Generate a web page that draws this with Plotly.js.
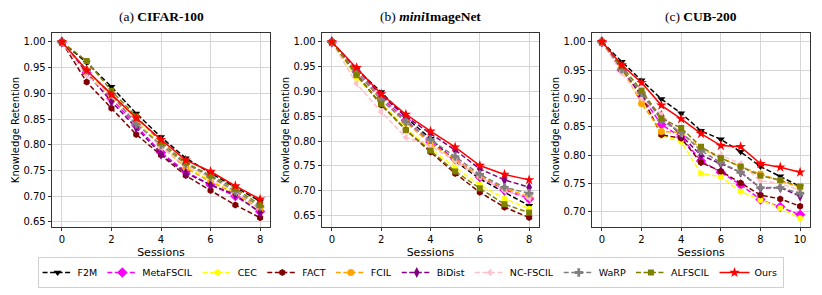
<!DOCTYPE html>
<html><head><meta charset="utf-8">
<script src="https://cdn.plot.ly/plotly-3.0.1.min.js"></script>
<style>html,body{margin:0;padding:0;background:#fff;}#chart{width:822px;height:295px;}</style>
</head><body><div id="chart"></div>
<script>
const methods = ["F2M","MetaFSCIL","CEC","FACT","FCIL","BiDist","NC-FSCIL","WaRP","ALFSCIL","Ours"];
const sessionsA = [0,1,2,3,4,5,6,7,8];
const sessionsB = [0,1,2,3,4,5,6,7,8];
const sessionsC = [0,1,2,3,4,5,6,7,8,9,10];

// (a) CIFAR-100
const cifar_F2M       = [1.0,0.960,0.913,0.861,0.815,0.774,0.745,0.718,0.690];
const cifar_MetaFSCIL = [1.0,0.940,0.890,0.838,0.785,0.748,0.722,0.700,0.670];
const cifar_CEC       = [1.0,0.940,0.893,0.845,0.800,0.760,0.730,0.708,0.678];
const cifar_FACT      = [1.0,0.922,0.871,0.820,0.780,0.740,0.711,0.683,0.658];
const cifar_FCIL      = [1.0,0.945,0.895,0.845,0.798,0.755,0.728,0.705,0.675];
const cifar_BiDist    = [1.0,0.940,0.884,0.833,0.782,0.745,0.722,0.703,0.668];
const cifar_NCFSCIL   = [1.0,0.935,0.895,0.845,0.795,0.760,0.735,0.708,0.680];
const cifar_WaRP      = [1.0,0.945,0.898,0.840,0.800,0.763,0.738,0.710,0.680];
const cifar_ALFSCIL   = [1.0,0.963,0.905,0.855,0.805,0.765,0.740,0.715,0.683];
const cifar_Ours      = [1.0,0.945,0.898,0.852,0.810,0.770,0.748,0.720,0.694];

// (b) miniImageNet
const mini_F2M       = [1.0,0.945,0.899,0.848,0.805,0.760,0.724,0.697,0.670];
const mini_MetaFSCIL = [1.0,0.940,0.888,0.842,0.798,0.764,0.728,0.702,0.684];
const mini_CEC       = [1.0,0.928,0.878,0.825,0.785,0.747,0.712,0.684,0.664];
const mini_FACT      = [1.0,0.935,0.873,0.823,0.778,0.735,0.697,0.667,0.646];
const mini_FCIL      = [1.0,0.940,0.885,0.838,0.795,0.762,0.730,0.705,0.688];
const mini_BiDist    = [1.0,0.945,0.892,0.850,0.815,0.782,0.744,0.722,0.707];
const mini_NCFSCIL   = [1.0,0.916,0.859,0.808,0.790,0.760,0.728,0.700,0.685];
const mini_WaRP      = [1.0,0.940,0.883,0.839,0.803,0.769,0.733,0.707,0.695];
const mini_ALFSCIL   = [1.0,0.933,0.875,0.822,0.781,0.739,0.705,0.673,0.656];
const mini_Ours      = [1.0,0.948,0.895,0.854,0.820,0.788,0.751,0.733,0.722];

// (c) CUB-200
const cub_F2M       = [1.0,0.965,0.932,0.899,0.874,0.843,0.828,0.806,0.780,0.763,0.745];
const cub_MetaFSCIL = [1.0,0.950,0.905,0.854,0.832,0.790,0.770,0.748,0.722,0.709,0.695];
const cub_CEC       = [1.0,0.950,0.900,0.835,0.824,0.768,0.762,0.736,0.721,0.707,0.689];
const cub_FACT      = [1.0,0.952,0.905,0.836,0.830,0.787,0.772,0.751,0.730,0.723,0.710];
const cub_FCIL      = [1.0,0.955,0.891,0.842,0.840,0.812,0.795,0.780,0.767,0.755,0.743];
const cub_BiDist    = [1.0,0.952,0.905,0.870,0.835,0.800,0.785,0.770,0.742,0.743,0.728];
const cub_NCFSCIL   = [1.0,0.945,0.900,0.872,0.838,0.810,0.800,0.785,0.755,0.750,0.738];
const cub_WaRP      = [1.0,0.952,0.910,0.862,0.840,0.808,0.787,0.770,0.743,0.743,0.733];
const cub_ALFSCIL   = [1.0,0.958,0.914,0.865,0.848,0.815,0.795,0.780,0.764,0.756,0.745];
const cub_Ours      = [1.0,0.959,0.928,0.888,0.864,0.838,0.817,0.815,0.785,0.779,0.770];

const panelTitles = ["(a) <b>CIFAR-100</b>", "(b) <b><i>mini</i>ImageNet</b>", "(c) <b>CUB-200</b>"];

const datasets = [
  {x: sessionsA, ys: [cifar_F2M,cifar_MetaFSCIL,cifar_CEC,cifar_FACT,cifar_FCIL,cifar_BiDist,cifar_NCFSCIL,cifar_WaRP,cifar_ALFSCIL,cifar_Ours]},
  {x: sessionsB, ys: [mini_F2M,mini_MetaFSCIL,mini_CEC,mini_FACT,mini_FCIL,mini_BiDist,mini_NCFSCIL,mini_WaRP,mini_ALFSCIL,mini_Ours]},
  {x: sessionsC, ys: [cub_F2M,cub_MetaFSCIL,cub_CEC,cub_FACT,cub_FCIL,cub_BiDist,cub_NCFSCIL,cub_WaRP,cub_ALFSCIL,cub_Ours]}
];

const styles = {
  "F2M":      {color:"#000000", symbol:"triangle-down", size:7},
  "MetaFSCIL":{color:"#ff00ff", symbol:"diamond", size:8},
  "CEC":      {color:"#ffff00", symbol:"circle", size:6},
  "FACT":     {color:"#800000", symbol:"hexagon", size:7},
  "FCIL":     {color:"#ffa500", symbol:"circle", size:7},
  "BiDist":   {color:"#800080", symbol:"diamond-tall", size:8},
  "NC-FSCIL": {color:"#ffc0cb", symbol:"triangle-left", size:7},
  "WaRP":     {color:"#808080", symbol:"cross", size:7},
  "ALFSCIL":  {color:"#808000", symbol:"square", size:6},
  "Ours":     {color:"#ff0000", symbol:"star", size:8}
};

const traces = [];
datasets.forEach((d, p) => {
  const suffix = p === 0 ? "" : String(p + 1);
  methods.forEach((m, i) => {
    const s = styles[m];
    traces.push({
      type: "scatter", mode: "lines+markers",
      x: d.x, y: d.ys[i], name: m, legendgroup: m, showlegend: p === 0,
      xaxis: "x" + suffix, yaxis: "y" + suffix,
      line: {color: s.color, width: 1.5, dash: m === "Ours" ? "solid" : "5px,2.5px"},
      marker: {color: s.color, symbol: s.symbol, size: s.size, line: {width: 0}}
    });
  });
});

const font = {family: "DejaVu Sans", size: 10, color: "#000"};
const yDomain = [1 - 227/295, 1 - 33/295];
const xDomains = [[52/822, 270/822], [322/822, 539/822], [592/822, 810/822]];
const yRanges = [[0.640, 1.0175], [0.627, 1.018], [0.6735, 1.0155]];
const xRanges = [[-0.4, 8.4], [-0.4, 8.4], [-0.5, 10.5]];

const layout = {
  width: 822, height: 295,
  margin: {l: 0, r: 0, t: 0, b: 0},
  paper_bgcolor: "#fff", plot_bgcolor: "#fff",
  font: font,
  showlegend: true,
  legend: {orientation: "h", x: 0.4995, xanchor: "center", y: 1 - 257/295, yanchor: "top",
           bordercolor: "#d0d0d0", borderwidth: 1, font: {family: "DejaVu Sans", size: 9.5, color: "#000"},
           itemwidth: 30, tracegroupgap: 0},
  annotations: []
};

for (let p = 0; p < 3; p++) {
  const suffix = p === 0 ? "" : String(p + 1);
  layout["xaxis" + suffix] = {
    domain: xDomains[p], range: xRanges[p], anchor: "y" + suffix,
    dtick: 2, tick0: 0, ticks: "outside", ticklen: 3.5, tickcolor: "#000", tickwidth: 0.8,
    showline: true, mirror: true, linecolor: "#000", linewidth: 0.8,
    showgrid: true, gridcolor: "#d5d5d5", gridwidth: 1, zeroline: false,
    tickfont: font,
    title: {text: "Sessions", font: {family: "DejaVu Sans", size: 11, color: "#000"}, standoff: 3}
  };
  layout["yaxis" + suffix] = {
    domain: yDomain, range: yRanges[p], anchor: "x" + suffix,
    dtick: 0.05, tick0: 0, tickformat: ".2f", ticks: "outside", ticklen: 3.5, tickcolor: "#000", tickwidth: 0.8,
    showline: true, mirror: true, linecolor: "#000", linewidth: 0.8,
    showgrid: true, gridcolor: "#d5d5d5", gridwidth: 1, zeroline: false,
    tickfont: font,
    title: {text: "Knowledge Retention", font: {family: "DejaVu Sans", size: 10, color: "#000"}, standoff: 1}
  };
  layout.annotations.push({
    text: panelTitles[p], xref: "paper", yref: "paper",
    x: (xDomains[p][0] + xDomains[p][1]) / 2, y: 1 - 17/295, xanchor: "center", yanchor: "middle",
    showarrow: false, font: {family: "Liberation Serif", size: 13.5, color: "#000"}
  });
}

Plotly.newPlot("chart", traces, layout, {staticPlot: true, displayModeBar: false});
</script></body></html>
